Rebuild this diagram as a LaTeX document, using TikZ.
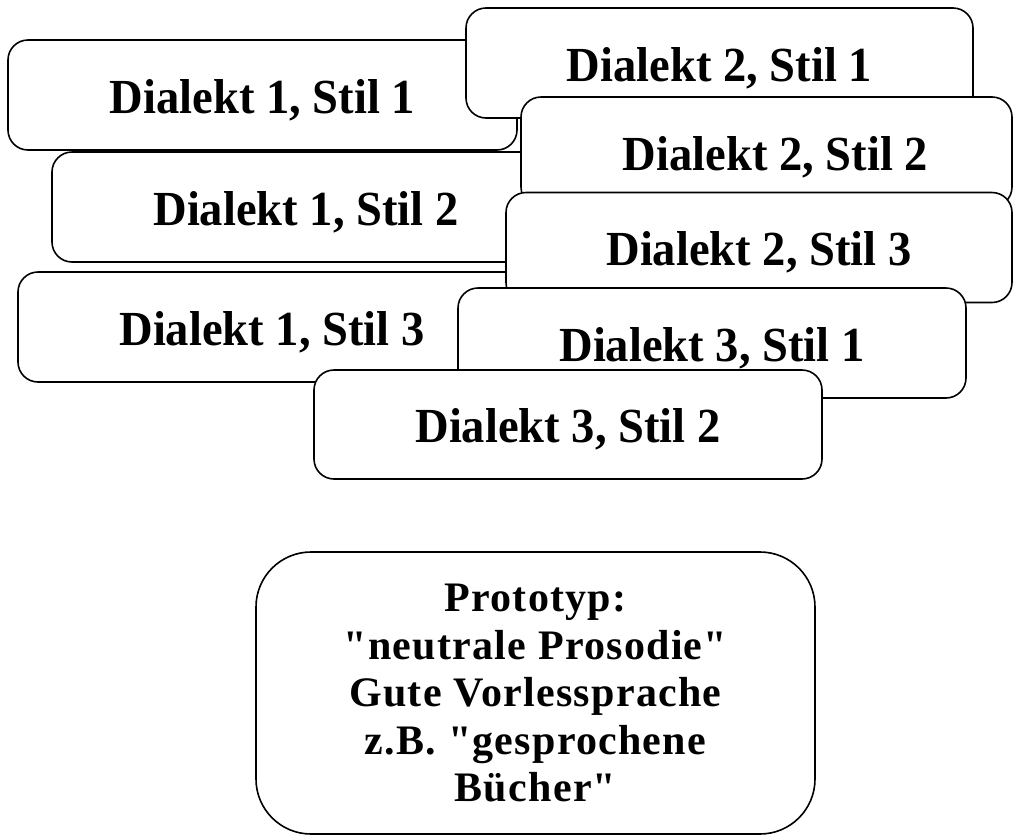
\documentclass[tikz,border=0pt]{standalone}
\usepackage{fontspec}
\setmainfont{Liberation Serif}[FakeStretch=0.95]
\newfontfamily\protofont{Liberation Serif}[LetterSpace=3]
\begin{document}
\begin{tikzpicture}[x=1pt,y=-1pt,
  card/.style={draw=black, fill=white, line width=1.6pt, rounded corners=20pt,
    minimum width=#1, minimum height=110pt, inner sep=0pt,
    text height=36pt, text depth=0pt,
    font=\fontsize{49}{55}\selectfont\bfseries},
  card/.default=508pt,
  protobox/.style={draw=black, fill=white, line width=1.6pt, rounded corners=55pt,
    minimum width=559pt, minimum height=282pt, inner sep=0pt, align=center,
    font=\protofont\fontsize{42}{47.5}\selectfont\bfseries}]
\useasboundingbox (0,0) rectangle (1013,836);
% style cards, drawn back to front
\node[card=509pt] (d1s1) at (262.5,95) {Dialekt 1, Stil 1};
\node[card=508pt] (d1s2) at (306,207) {Dialekt 1, Stil 2};
\node[card=507pt] (d2s1) at (719.5,63) {Dialekt 2, Stil 1};
\node[card=491pt] (d2s2) at (766.5,152) {\hspace*{18pt}Dialekt 2, Stil 2};
\node[card=508pt] (d1s3) at (272,327) {Dialekt 1, Stil 3};
\node[card=506pt] (d2s3) at (759,247.5) {Dialekt 2, Stil 3};
\node[card=508pt] (d3s1) at (712,343) {Dialekt 3, Stil 1};
\node[card=508pt, minimum height=109pt] (d3s2) at (568,424.5) {Dialekt 3, Stil 2};
% prototype
\node[protobox] (proto) at (535.5,693) {Prototyp:\\"neutrale Prosodie"\\Gute Vorlessprache\\z.B. "gesprochene\\Bücher"};
\end{tikzpicture}
\end{document}
